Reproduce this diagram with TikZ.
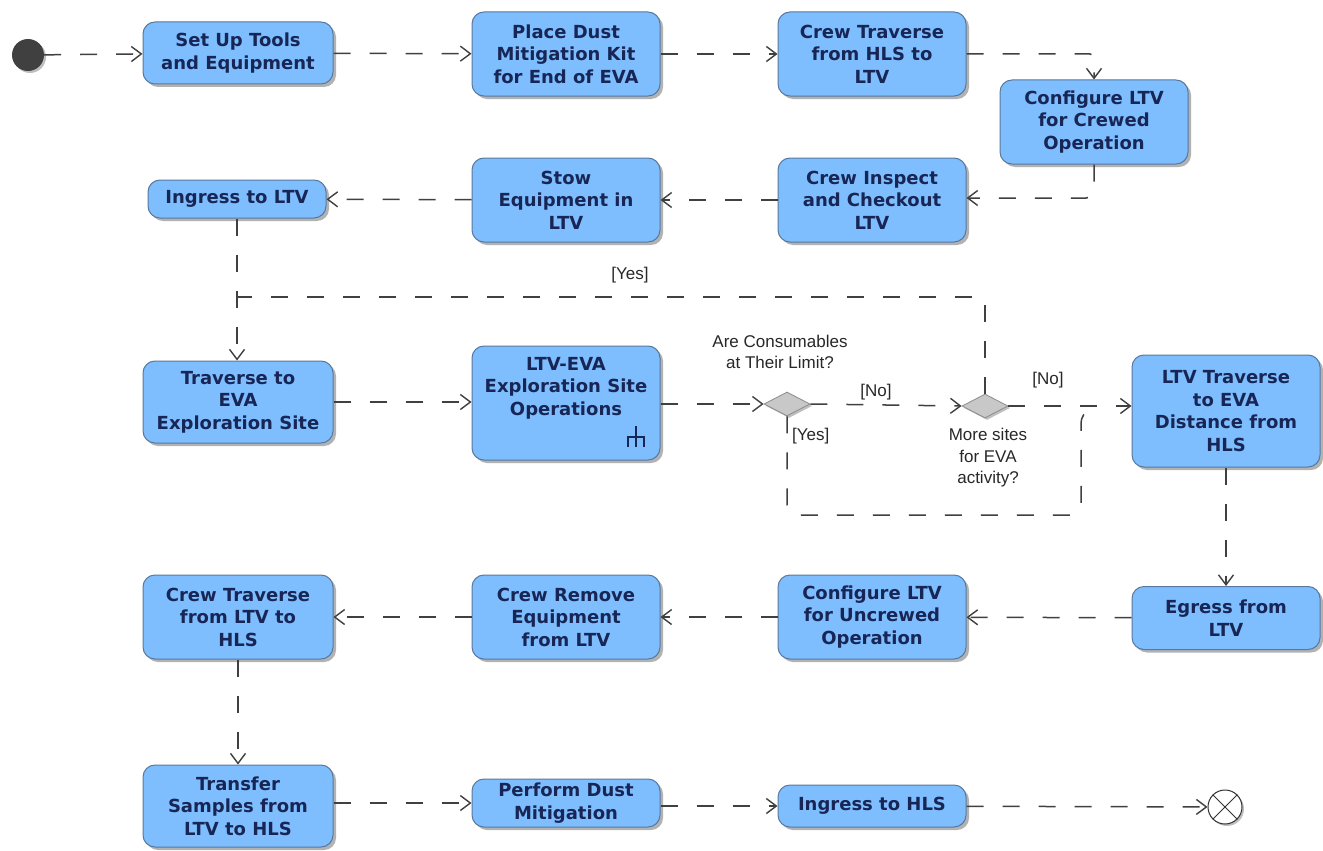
\documentclass[tikz,border=0pt]{standalone}
\usepackage{fontspec}
\setmainfont{Liberation Sans}
\newfontfamily\boxfont{DejaVu Sans}
\usetikzlibrary{arrows.meta,shapes.geometric,shadows}

\definecolor{boxfill}{RGB}{126,190,255}
\definecolor{boxline}{RGB}{88,120,158}
\definecolor{boxtext}{RGB}{24,38,86}
\definecolor{lineclr}{RGB}{64,64,64}
\definecolor{labelclr}{RGB}{40,40,40}
\definecolor{decfill}{RGB}{200,200,200}
\definecolor{decline}{RGB}{140,140,140}

\tikzset{
  action/.style={draw=boxline, fill=boxfill, line width=1pt, rounded corners=12pt,
    text=boxtext, align=center, inner sep=0pt,
    font=\boxfont\bfseries\fontsize{18}{22.5}\selectfont,
    drop shadow={shadow xshift=3pt, shadow yshift=-3pt, fill=black!55, opacity=0.55}},
  boxtxt/.style={text=boxtext, align=center, inner sep=0pt,
    font=\boxfont\bfseries\fontsize{18}{22.5}\selectfont},
  decision/.style={diamond, aspect=2, draw=decline, fill=decfill, line width=0.8pt,
    minimum width=46pt, minimum height=24pt, inner sep=0pt,
    drop shadow={shadow xshift=2pt, shadow yshift=-2pt, fill=black!50, opacity=0.5}},
  guard/.style={text=labelclr, align=center, inner sep=0pt,
    font=\fontsize{17}{21.5}\selectfont},
  link/.style={draw=lineclr, line width=1.5pt, dash pattern=on 17pt off 19pt},
  flow/.style={link, -{Straight Barb[length=10pt,width=15pt,line width=1.4pt]}},
}

\begin{document}
\begin{tikzpicture}[x=1pt,y=-1pt]
  \useasboundingbox (0,0) rectangle (1323,851);
  \fill[white] (0,0) rectangle (1323,851);

  % initial and final nodes
  \node[circle, fill=black!75, minimum size=32pt, inner sep=0pt,
        drop shadow={shadow xshift=2pt, shadow yshift=-2pt, fill=black!50, opacity=0.5}]
        (start) at (28,55) {};
  \node[circle, draw=black!80, fill=white, line width=1pt, minimum size=34pt, inner sep=0pt,
        drop shadow={shadow xshift=2pt, shadow yshift=-2pt, fill=black!50, opacity=0.5}]
        (finish) at (1225,807) {};
  \draw[black!80, line width=1pt] (finish.45) -- (finish.225) (finish.135) -- (finish.315);

  % row 1
  \node[action, minimum width=190pt, minimum height=62pt] (setup) at (238,53)
    {Set Up Tools\\and Equipment};
  \node[action, minimum width=188pt, minimum height=84pt] (dustkit) at (566,54)
    {Place Dust\\Mitigation Kit\\for End of EVA};
  \node[action, minimum width=188pt, minimum height=84pt] (toltv) at (872,54)
    {Crew Traverse\\from HLS to\\LTV};
  \node[action, minimum width=188pt, minimum height=84pt] (cfgcrew) at (1094,122)
    {Configure LTV\\for Crewed\\Operation};

  % row 2
  \node[action, minimum width=188pt, minimum height=84pt] (inspect) at (872,200)
    {Crew Inspect\\and Checkout\\LTV};
  \node[action, minimum width=188pt, minimum height=84pt] (stow) at (566,200)
    {Stow\\Equipment in\\LTV};
  \node[action, minimum width=178pt, minimum height=38pt] (ingltv) at (237,199)
    {Ingress to LTV};

  % row 3
  \node[action, minimum width=190pt, minimum height=82pt] (tosite) at (238,402)
    {Traverse to\\EVA\\Exploration Site};
  \node[action, minimum width=188pt, minimum height=114pt] (siteops) at (566,403) {};
  \node[boxtxt] (siteopstxt) at (566,388) {LTV-EVA\\Exploration Site\\Operations};
  % call-behaviour (rake) mark
  \draw[boxtext, line width=2.6pt] (636,426) -- (636,447)
    (628,447) -- (628,437) -- (644,437) -- (644,447);
  \node[decision] (limit) at (787,404) {};
  \node[decision] (more) at (985,406) {};
  \node[action, minimum width=188pt, minimum height=112pt] (ltvtrav) at (1226,411)
    {LTV Traverse\\to EVA\\Distance from\\HLS};

  % row 4
  \node[action, minimum width=188pt, minimum height=63pt] (egress) at (1226,618)
    {Egress from\\LTV};
  \node[action, minimum width=188pt, minimum height=84pt] (cfguncrew) at (872,617)
    {Configure LTV\\for Uncrewed\\Operation};
  \node[action, minimum width=188pt, minimum height=84pt] (remove) at (566,617)
    {Crew Remove\\Equipment\\from LTV};
  \node[action, minimum width=190pt, minimum height=84pt] (tohls) at (238,617)
    {Crew Traverse\\from LTV to\\HLS};

  % row 5
  \node[action, minimum width=190pt, minimum height=82pt] (transfer) at (238,806)
    {Transfer\\Samples from\\LTV to HLS};
  \node[action, minimum width=188pt, minimum height=48pt] (dustmit) at (566,803)
    {Perform Dust\\Mitigation};
  \node[action, minimum width=188pt, minimum height=42pt] (inghls) at (872,806)
    {Ingress to HLS};

  % guards and decision questions
  \node[guard] (qlimit) at (780,352) {Are Consumables\\at Their Limit?};
  \node[guard] (qmore) at (988,458) {More sites\\for EVA\\activity?};
  \node[guard] (gyesloop) at (630,275) {[Yes]};
  \node[guard] (gno1) at (876,392) {[No]};
  \node[guard, anchor=west] (gyes1) at (792,436) {[Yes]};
  \node[guard] (gno2) at (1048,380) {[No]};

  % merge points of the decision branches
  \coordinate (loopjoin) at (ingltv.south |- 0,297);
  \coordinate (yesjoin) at (1094,407);

  % control flow
  \draw[flow] (start) -- (setup);
  \draw[flow] (setup) -- (dustkit);
  \draw[flow] (dustkit) -- (toltv);
  \draw[flow, rounded corners=4pt] (toltv.east) -| (cfgcrew.north);
  \draw[flow, rounded corners=8pt] (cfgcrew.south) |- (inspect.east |- 0,198);
  \draw[flow] (inspect) -- (stow);
  \draw[flow] (stow) -- (ingltv);
  \draw[flow] (ingltv.south) -- (ingltv.south |- tosite.north);
  \draw[flow] (tosite.east) -- (tosite.east -| siteops.west);
  \draw[flow] (siteops.east |- limit) -- (limit.west);
  \draw[flow] (limit.east) -- (more.west);
  \draw[flow] (more.east) -- (more -| ltvtrav.west);
  \draw[link, rounded corners=10pt] (limit.south) |- (1081,515) -- (1081,413) -- (yesjoin);
  \draw[link, rounded corners=3pt] (more.north) |- (loopjoin);
  \draw[flow] (ltvtrav.south) -- (egress.north);
  \draw[flow] (egress) -- (cfguncrew);
  \draw[flow] (cfguncrew) -- (remove);
  \draw[flow] (remove) -- (tohls);
  \draw[flow] (tohls.south) -- (tohls.south |- transfer.north);
  \draw[flow] (transfer.east |- dustmit) -- (dustmit.west);
  \draw[flow] (dustmit.east |- inghls) -- (inghls.west);
  \draw[flow] (inghls) -- (finish);
\end{tikzpicture}
\end{document}
